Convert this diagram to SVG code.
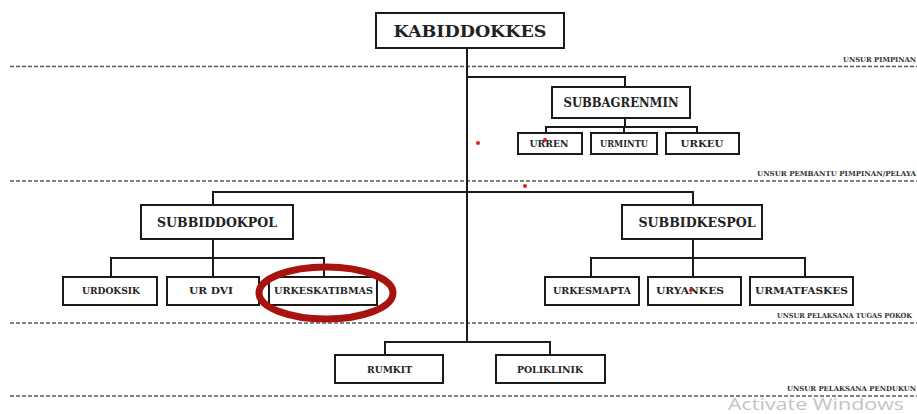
<svg xmlns="http://www.w3.org/2000/svg" width="917" height="414" viewBox="0 0 917 414">
<style>
.box{fill:#fff;stroke:#1a1a1a;stroke-width:2}
.ln{fill:none;stroke:#1a1a1a;stroke-width:2}
.dash{stroke:#5a5a5a;stroke-width:1.5;stroke-dasharray:4 2}
.t{font-family:"DejaVu Serif","Liberation Serif",serif;font-weight:bold;fill:#222;text-anchor:middle}
.lab{font-family:"DejaVu Serif","Liberation Serif",serif;font-weight:bold;fill:#333;font-size:7px}
.dot{fill:#e0201a}
</style>
<rect width="917" height="414" fill="#fff"/>
<g id="dividers">
<line class="dash" x1="10" y1="66.5" x2="917" y2="66.5"/>
<line class="dash" x1="10" y1="181" x2="917" y2="181"/>
<line class="dash" x1="10" y1="323" x2="917" y2="323"/>
<line class="dash" x1="10" y1="396" x2="917" y2="396"/>
<text class="lab" x="843" y="62" textLength="73" lengthAdjust="spacingAndGlyphs">UNSUR PIMPINAN</text>
<text class="lab" x="757" y="176" textLength="159" lengthAdjust="spacingAndGlyphs">UNSUR  PEMBANTU PIMPINAN/PELAYA</text>
<text class="lab" x="777" y="318" textLength="135" lengthAdjust="spacingAndGlyphs">UNSUR PELAKSANA TUGAS POKOK</text>
<text class="lab" x="787" y="391" textLength="129" lengthAdjust="spacingAndGlyphs">UNSUR PELAKSANA PENDUKUN</text>
</g>
<g id="connectors">
<path class="ln" d="M467 48V342"/>
<path class="ln" d="M467 77H625V87"/>
<path class="ln" d="M625 118V127M546 133V127H697V133M624 127V133"/>
<path class="ln" d="M213 205V192H693V205"/>
<path class="ln" d="M213 239V258M111 277V258H324V277M213 258V277"/>
<path class="ln" d="M693 239V258M591 277V258H805V277M693 258V277"/>
<path class="ln" d="M385 355V342H550V355"/>
</g>
<g id="kabiddokkes">
<rect class="box" x="376" y="13" width="188" height="35"/>
<text class="t" x="470" y="37" font-size="16" textLength="153" lengthAdjust="spacingAndGlyphs">KABIDDOKKES</text>
</g>
<g id="subbagrenmin">
<rect class="box" x="552" y="87" width="138" height="31"/>
<text class="t" x="621" y="107" font-size="12" textLength="115" lengthAdjust="spacingAndGlyphs">SUBBAGRENMIN</text>
</g>
<g id="urren">
<rect class="box" x="518" y="133" width="64" height="21"/>
<text class="t" x="549" y="147" font-size="9" textLength="39" lengthAdjust="spacingAndGlyphs">URREN</text>
</g>
<g id="urmintu">
<rect class="box" x="591" y="133" width="66" height="21"/>
<text class="t" x="624" y="147" font-size="9" textLength="48" lengthAdjust="spacingAndGlyphs">URMINTU</text>
</g>
<g id="urkeu">
<rect class="box" x="666" y="133" width="73" height="21"/>
<text class="t" x="702" y="147" font-size="9" textLength="43" lengthAdjust="spacingAndGlyphs">URKEU</text>
</g>
<g id="subbiddokpol">
<rect class="box" x="141" y="205" width="152" height="34"/>
<text class="t" x="217" y="227" font-size="12.5" textLength="120" lengthAdjust="spacingAndGlyphs">SUBBIDDOKPOL</text>
</g>
<g id="urdoksik">
<rect class="box" x="63" y="277" width="94" height="28"/>
<text class="t" x="111" y="294" font-size="9" textLength="58" lengthAdjust="spacingAndGlyphs">URDOKSIK</text>
</g>
<g id="urdvi">
<rect class="box" x="167" y="277" width="92" height="28"/>
<text class="t" x="211" y="294" font-size="9" textLength="44" lengthAdjust="spacingAndGlyphs">UR DVI</text>
</g>
<g id="urkeskatibmas">
<rect class="box" x="269" y="277" width="108" height="28"/>
<text class="t" x="323.5" y="294" font-size="9" textLength="99" lengthAdjust="spacingAndGlyphs">URKESKATIBMAS</text>
</g>
<g id="highlight">
<ellipse cx="326" cy="293" rx="67" ry="26" fill="none" stroke="#a8120f" stroke-width="7"/>
</g>
<g id="subbidkespol">
<rect class="box" x="622" y="205" width="140" height="34"/>
<text class="t" x="697" y="227" font-size="12.5" textLength="117" lengthAdjust="spacingAndGlyphs">SUBBIDKESPOL</text>
</g>
<g id="urkesmapta">
<rect class="box" x="545" y="277" width="94" height="28"/>
<text class="t" x="592" y="294" font-size="9" textLength="78" lengthAdjust="spacingAndGlyphs">URKESMAPTA</text>
</g>
<g id="uryankes">
<rect class="box" x="648" y="277" width="93" height="28"/>
<text class="t" x="690" y="294" font-size="9" textLength="68" lengthAdjust="spacingAndGlyphs">URYANKES</text>
</g>
<g id="urmatfaskes">
<rect class="box" x="750" y="277" width="103" height="28"/>
<text class="t" x="801.5" y="294" font-size="9" textLength="93" lengthAdjust="spacingAndGlyphs">URMATFASKES</text>
</g>
<g id="rumkit">
<rect class="box" x="335" y="355" width="108" height="28"/>
<text class="t" x="389.5" y="373" font-size="9" textLength="45" lengthAdjust="spacingAndGlyphs">RUMKIT</text>
</g>
<g id="poliklinik">
<rect class="box" x="496" y="355" width="109" height="28"/>
<text class="t" x="550" y="373" font-size="9" textLength="66" lengthAdjust="spacingAndGlyphs">POLIKLINIK</text>
</g>
<g id="marks">
<circle class="dot" cx="545" cy="140" r="2"/>
<circle class="dot" cx="478" cy="143" r="2"/>
<circle class="dot" cx="525" cy="186" r="2"/>
<circle class="dot" cx="691" cy="290" r="2"/>
</g>
<text x="728" y="410" font-family="'Open Sans','Noto Sans',sans-serif" font-size="16" fill="#c4c4c4" textLength="176" lengthAdjust="spacingAndGlyphs">Activate Windows</text>
</svg>
